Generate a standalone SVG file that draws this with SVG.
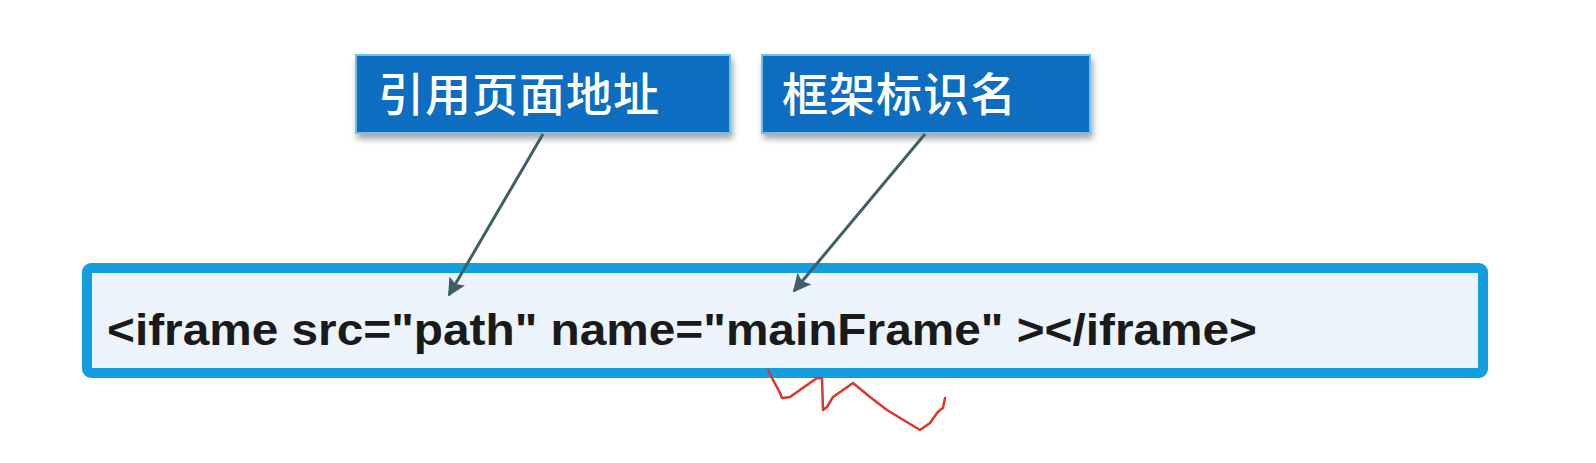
<svg xmlns="http://www.w3.org/2000/svg" width="1596" height="463" viewBox="0 0 1596 463">
<defs>
<filter id="sh" x="-10%" y="-20%" width="120%" height="150%">
<feDropShadow dx="2" dy="5" stdDeviation="3" flood-color="#000" flood-opacity="0.35"/>
</filter>
<marker id="ah" viewBox="0 0 10 10" refX="9" refY="5" markerWidth="6" markerHeight="6" orient="auto" markerUnits="strokeWidth">
<path d="M0,0 L10,5 L0,10 L2,5 Z" fill="#3f5f66"/>
</marker>
<style>
.lbl{fill:#0b6dc0;stroke:#6cc0ea;stroke-width:2}
.lt{font-family:"Noto Sans CJK SC",sans-serif;font-size:46px;font-weight:500;fill:#fff;letter-spacing:1px}
.con{stroke:#3f5f66;stroke-width:3;fill:none;marker-end:url(#ah)}
</style>
</defs>
<rect width="1596" height="463" fill="#fff"/>
<g id="label-src">
<rect class="lbl" x="356" y="55" width="374" height="78" filter="url(#sh)"/>
<text class="lt" x="378" y="111">引用页面地址</text>
</g>
<g id="label-name">
<rect class="lbl" x="762" y="55" width="328" height="78" filter="url(#sh)"/>
<text class="lt" x="782" y="111">框架标识名</text>
</g>
<g id="code-box">
<rect x="87" y="268" width="1396" height="105" rx="4" fill="#edf3fb" stroke="#119fe2" stroke-width="10"/>
<text x="107" y="345" font-family="Liberation Sans,Arial,sans-serif" font-weight="bold" font-size="44" fill="#1a1a1a" textLength="1150" lengthAdjust="spacingAndGlyphs">&lt;iframe src="path" name="mainFrame" &gt;&lt;/iframe&gt;</text>
</g>
<g id="connectors">
<line class="con" x1="543" y1="134" x2="449" y2="295"/>
<line class="con" x1="925" y1="134" x2="794" y2="291"/>
</g>
<g id="scribble">
<polyline points="768,370 772,378 780,393 782,398 790,397 817,378 822,378 823,410 827,407 833,397 853,383 870,397 887,410 920,430 930,423 937,413 940,410 943,408 945,398" fill="none" stroke="#d8392b" stroke-width="2.5" stroke-linejoin="round" stroke-linecap="round"/>
</g>
</svg>
